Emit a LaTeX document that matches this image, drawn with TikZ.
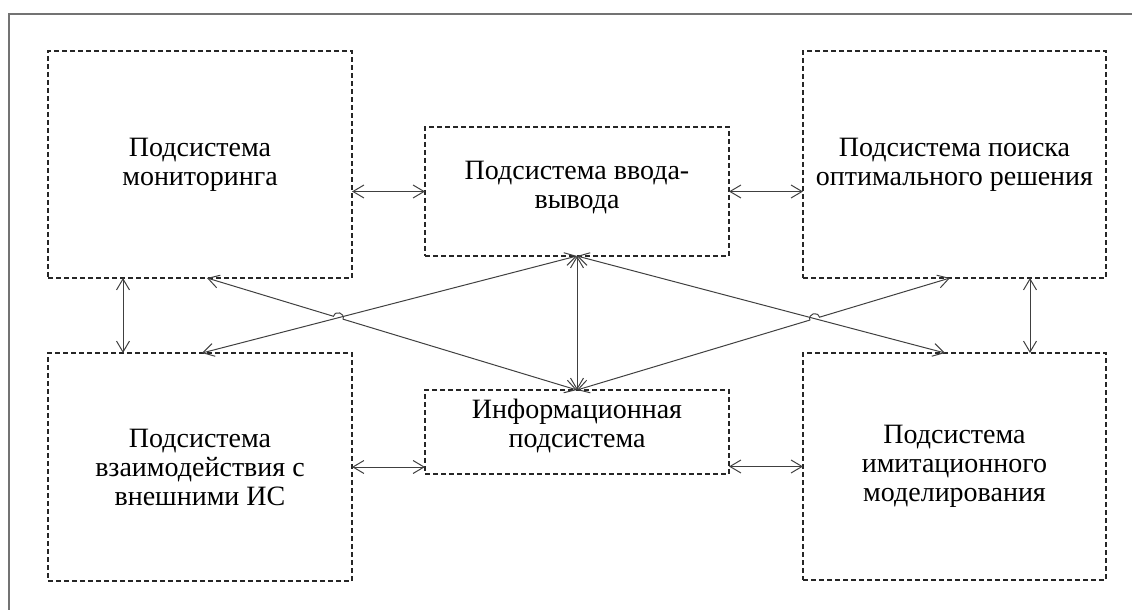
\documentclass[tikz,border=0pt]{standalone}
\usepackage{fontspec}
\setmainfont{Liberation Serif}
\usetikzlibrary{arrows.meta,calc,intersections}
\begin{document}
\begin{tikzpicture}[x=0.5pt,y=-0.5pt,
  box/.style={draw=black!85, line width=0.6pt, dash pattern=on 2.5pt off 1.5pt,
    inner sep=0pt, outer sep=0pt, align=center,
    font=\fontsize{14}{14.5}\selectfont},
  txt/.style={inner sep=0pt, align=center, font=\fontsize{14}{14.5}\selectfont},
  link/.style={draw=black!75, line width=0.5pt,
    {Straight Barb[length=5.5pt,width=6.5pt]}-{Straight Barb[length=5.5pt,width=6.5pt]}}]
\useasboundingbox (0,0) rectangle (1132,610);
\draw[black!55, line width=0.6pt] (9,610) -- (9,14) -- (1132,14);

\node[box, minimum width=152pt, minimum height=113.5pt] (TL) at (200,164.5) {Подсистема\\мониторинга};
\node[box, minimum width=151.5pt, minimum height=113.5pt] (TR) at (954.5,164.5) {Подсистема поиска\\оптимального решения};
\node[box, minimum width=152pt, minimum height=114pt] (BL) at (200,467) {Подсистема\\взаимодействия с\\внешними ИС};
\node[box, minimum width=151.5pt, minimum height=113.5pt] (BR) at (954.5,466.5) {Подсистема\\имитационного\\моделирования};
\node[box, minimum width=152pt, minimum height=64.5pt] (TM) at (577,191.5) {};
\node[txt] (TMt) at ($(TM.center)+(0,-4)$) {Подсистема ввода-\\вывода};
\node[box, minimum width=152pt, minimum height=42pt] (BM) at (577,432) {};
\node[txt] (BMt) at ($(BM.center)+(0,-6)$) {Информационная\\подсистема};

% horizontal links
\draw[link] (TM.west -| TL.east) -- (TM.west);
\draw[link] (TM.east -| TR.west) -- (TM.east);
\draw[link] (BL.east) -- (BL.east -| BM.west);
\draw[link] (BR.west) -- (BR.west -| BM.east);
% vertical links
\draw[link] ($(TL.south west)+(75,0)$) -- ($(BL.north west)+(75,0)$);
\draw[link] ($(TR.south east)+(-76,0)$) -- ($(BR.north east)+(-76,0)$);
\draw[link] (TM.south) -- (BM.north);

% diagonal end points
\coordinate (P1) at ($(TL.south west)+(159,0)$);
\coordinate (Q1) at ($(BL.north west)+(154,0)$);
\coordinate (R1) at ($(TR.south west)+(147,0)$);
\coordinate (S1) at ($(BR.north west)+(142,0)$);

\path[name path=pa] (P1) -- (BM.north);
\path[name path=pb] (Q1) -- (TM.south);
\path[name path=pc] (TM.south) -- (S1);
\path[name path=pd] (BM.north) -- (R1);
\path[name intersections={of=pa and pb, by=X1}];
\path[name intersections={of=pc and pd, by=X2}];

\draw[link] (Q1) -- (TM.south);
\draw[link] (TM.south) -- (S1);

\coordinate (X1a) at ($(X1)!2.5pt!(P1)$);
\coordinate (X1b) at ($(X1)!2.5pt!(BM.north)$);
\draw[link] (P1) -- (X1a) .. controls ($(X1a)!3.33pt!90:(X1)$) and ($(X1b)!3.33pt!-90:(X1)$) .. (X1b) -- (BM.north);

\coordinate (X2a) at ($(X2)!2.5pt!(BM.north)$);
\coordinate (X2b) at ($(X2)!2.5pt!(R1)$);
\draw[link] (BM.north) -- (X2a) .. controls ($(X2a)!3.33pt!90:(X2)$) and ($(X2b)!3.33pt!-90:(X2)$) .. (X2b) -- (R1);
\end{tikzpicture}
\end{document}
